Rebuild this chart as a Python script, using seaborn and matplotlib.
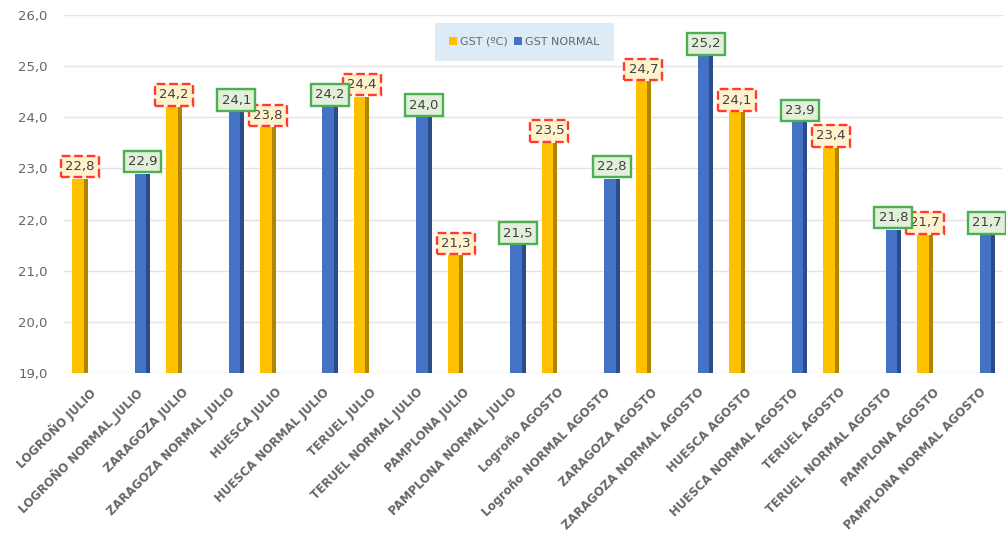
import numpy as np
import pandas as pd
import matplotlib
matplotlib.use("Agg")
import matplotlib.pyplot as plt
import seaborn as sns
from matplotlib.patches import Rectangle

# === datos ===
categorias = ["LOGROÑO JULIO", "LOGROÑO NORMAL_JULIO", "ZARAGOZA JULIO", "ZARAGOZA NORMAL JULIO",
              "HUESCA JULIO", "HUESCA NORMAL JULIO", "TERUEL JULIO", "TERUEL NORMAL JULIO",
              "PAMPLONA JULIO", "PAMPLONA NORMAL JULIO", "Logroño AGOSTO", "Logroño NORMAL AGOSTO",
              "ZARAGOZA AGOSTO", "ZARAGOZA NORMAL AGOSTO", "HUESCA AGOSTO", "HUESCA NORMAL AGOSTO",
              "TERUEL AGOSTO", "TERUEL NORMAL AGOSTO", "PAMPLONA AGOSTO", "PAMPLONA NORMAL AGOSTO"]
gst = [22.8, np.nan, 24.2, np.nan, 23.8, np.nan, 24.4, np.nan, 21.3, np.nan,
       23.5, np.nan, 24.7, np.nan, 24.1, np.nan, 23.4, np.nan, 21.7, np.nan]
gst_normal = [np.nan, 22.9, np.nan, 24.1, np.nan, 24.2, np.nan, 24.0, np.nan, 21.5,
              np.nan, 22.8, np.nan, 25.2, np.nan, 23.9, np.nan, 21.8, np.nan, 21.7]
series = ["GST (ºC)", "GST NORMAL"]
yticks = [19, 20, 21, 22, 23, 24, 25, 26]

df = pd.DataFrame({
    "cat": categorias * 2,
    "serie": [series[0]] * len(categorias) + [series[1]] * len(categorias),
    "valor": gst + gst_normal,
})

amarillo = "#FFC000"
azul = "#4472C4"

fig = plt.figure(figsize=(10.06, 5.33), dpi=100)
ax = fig.add_axes([0.064, 0.30, 0.933, 0.672])

sns.barplot(data=df, x="cat", y="valor", hue="serie", order=categorias, hue_order=series,
            palette=[amarillo, azul], width=0.66, ax=ax, errorbar=None, saturation=1)

ax.set_ylim(19, 26)
ax.set_xlim(-0.5, len(categorias) - 0.5)
ax.set_yticks(yticks)
ax.set_yticklabels([f"{v:.1f}".replace(".", ",") for v in yticks], color="#666666", fontsize=9.5)
ax.set_xlabel("")
ax.set_ylabel("")
ax.grid(axis="y", color="#e3e3e3", lw=1)
ax.set_axisbelow(True)
for s in ax.spines.values():
    s.set_visible(False)
ax.tick_params(length=0)
ax.tick_params(axis="y", pad=12)
ax.tick_params(axis="x", pad=9)
plt.setp(ax.get_xticklabels(), rotation=45, ha="right", rotation_mode="anchor",
         color="#666666", fontsize=8.5, fontweight="bold")

# sombra lateral (efecto 3D) y etiquetas de datos
for cont, col, fc, ec, ls in [(ax.containers[0], "#B08600", "#FFF2CC", "#FF3B2F", "--"),
                              (ax.containers[1], "#2A4C8A", "#E2EFDA", "#4CAF50", "-")]:
    for bar in cont:
        h = bar.get_height()
        if np.isnan(h):
            continue
        x0, w = bar.get_x(), bar.get_width()
        ax.add_patch(Rectangle((x0 + w * 0.74, 19), w * 0.26, h - 19, color=col, lw=0, zorder=3))
        ax.annotate(f"{h:.1f}".replace(".", ","), (x0 + w / 2, h), xytext=(0, 4),
                    textcoords="offset points", ha="center", va="bottom",
                    fontsize=9.5, color="#404040", zorder=5,
                    bbox=dict(boxstyle="square,pad=0.32", fc=fc, ec=ec, ls=ls, lw=1.7))

leg = ax.legend(loc="upper center", bbox_to_anchor=(0.49, 0.985), ncol=2, frameon=True,
                fontsize=8, handlelength=0.7, handleheight=0.7, handletextpad=0.3,
                columnspacing=0.5, borderpad=1.0)
leg.get_frame().set_facecolor("#DDEBF7")
leg.get_frame().set_edgecolor("none")
leg.get_frame().set_alpha(1)
leg.get_frame().set_boxstyle("square")
for t in leg.get_texts():
    t.set_color("#666666")

fig.savefig("out.png", dpi=100)
